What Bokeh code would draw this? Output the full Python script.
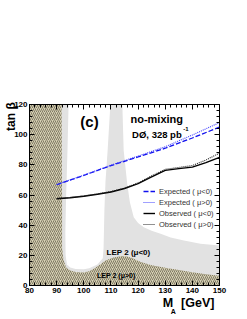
from bokeh.plotting import figure
from bokeh.models import Range1d, LinearAxis, SingleIntervalTicker, FixedTicker, Label, Legend, LegendItem
from bokeh.embed import file_html
from bokeh.resources import INLINE

# ---------------- data ----------------
# LEP 2 (mu>0) excluded region (hatched): boundary
lep_pos_m = [80, 80, 91.8, 92.0, 92.0, 92.5, 93.5, 95, 97, 100, 102, 104, 106, 108, 111, 114, 116, 118, 121, 125, 130, 135, 140, 145, 150, 150]
lep_pos_t = [0, 120, 120, 60, 25, 17, 12, 10, 9, 8.6, 9.5, 11.5, 14, 16.5, 18.5, 19.5, 19.3, 18, 15.5, 13.5, 11.8, 10.2, 8.8, 7.5, 6.5, 0]

# LEP 2 (mu<0) excluded region (light grey) = full area minus two allowed (white) regions
allowed1_m = [94.4, 94.0, 93.5, 93.2, 93.3, 93.8, 95, 97, 100, 102, 105, 107, 107.3, 107.6, 108.0, 108.8, 109.8]
allowed1_t = [120, 90, 60, 35, 20, 14, 12, 11, 10.8, 11.5, 14, 18, 25, 50, 69, 90, 120]
allowed2_m = [114.2, 150, 150, 143, 136.9, 132, 128.3, 125, 122.1, 120, 118.4, 117, 116, 114.7]
allowed2_t = [120, 120, 26.5, 27.6, 29.8, 31.8, 34.3, 36.3, 38.7, 41.5, 45.3, 55, 67.4, 89.5]

# limits
mass = [90, 100, 110, 120, 130, 140, 150]
exp_neg = [66.8, 73.0, 79.5, 85.2, 91.0, 97.8, 105.0]
exp_pos = [66.9, 73.2, 79.8, 85.8, 92.0, 99.8, 108.0]
obs_mass = [90, 95, 100, 105, 110, 115, 120, 125, 130, 135, 140, 145, 150]
obs_neg = [57.5, 58.2, 59.2, 60.5, 62.0, 64.3, 67.5, 72.0, 76.3, 77.5, 78.5, 81.5, 85.0]
obs_pos = [57.7, 58.4, 59.4, 60.7, 62.3, 64.6, 68.0, 72.7, 77.0, 78.3, 79.5, 83.2, 87.8]

legend_labels = ["Expected ( \u03bc<0)", "Expected ( \u03bc>0)", "Observed ( \u03bc<0)", "Observed ( \u03bc>0)"]

# axis titles (placed at data positions through extra label-only axes)
x_title = {131: "M", 142: "[GeV]"}
x_title_sub = {133: "A"}
y_title = {112: "tan \u03b2"}

FONT = "Liberation Sans"
GREY = "#e2e2e2"

p = figure(frame_width=190, frame_height=181, output_backend="svg", toolbar_location=None,
           x_range=Range1d(80, 150), y_range=Range1d(0, 120),
           min_border_left=29, min_border_right=20, min_border_top=104, min_border_bottom=0,
           x_axis_location=None, y_axis_location=None)
p.xgrid.visible = False
p.ygrid.visible = False
p.outline_line_color = "black"
p.outline_line_width = 1
p.background_fill_color = "white"
p.border_fill_color = "white"

# grey: whole region, then allowed (white) regions, then hatched region
p.patch([80, 80, 150, 150], [0, 120, 120, 0], fill_color=GREY, line_color=None)
p.patch(allowed1_m, allowed1_t, fill_color="white", line_color=None)
p.patch(allowed2_m, allowed2_t, fill_color="white", line_color=None)
p.patch(lep_pos_m, lep_pos_t, fill_color="#d6d0b4", line_color=None,
        hatch_pattern="/", hatch_color="#5a5440", hatch_weight=0.7, hatch_scale=4)

r1 = p.line(mass, exp_neg, line_color="#1010ee", line_width=1.3, line_dash="5 2")
r2 = p.line(mass, exp_pos, line_color="#4040ff", line_width=1.1, line_dash="1 1")
r3 = p.line(obs_mass, obs_neg, line_color="black", line_width=1.4)
r4 = p.line(obs_mass, obs_pos, line_color="#222222", line_width=1.1, line_dash="1 1")

legend = Legend(items=[LegendItem(label=l, renderers=[r]) for l, r in zip(legend_labels, [r1, r2, r3, r4])],
                location=(114, 56), padding=0, margin=0, spacing=1,
                glyph_width=12, glyph_height=10, label_height=10, label_standoff=4,
                label_text_font=FONT, label_text_font_size="7.5px", label_text_color="#333333",
                background_fill_alpha=0, border_line_alpha=0)
p.add_layout(legend, "center")

def style_axis(ax, labels=True):
    ax.major_tick_in = 5
    ax.major_tick_out = 0
    ax.minor_tick_in = 3
    ax.minor_tick_out = 0
    ax.axis_line_color = "black"
    ax.major_tick_line_color = "black"
    ax.minor_tick_line_color = "black"
    ax.major_label_text_font = FONT
    ax.major_label_text_font_style = "bold"
    ax.major_label_text_font_size = "8px"
    ax.major_label_text_color = "black" if labels else None
    ax.major_label_standoff = 2

xt = SingleIntervalTicker(interval=10, num_minor_ticks=5)
yt = SingleIntervalTicker(interval=20, num_minor_ticks=5)
for loc, lab in [("below", True), ("above", False)]:
    ax = LinearAxis(ticker=xt)
    style_axis(ax, lab)
    p.add_layout(ax, loc)
for loc, lab in [("left", True), ("right", False)]:
    ax = LinearAxis(ticker=yt)
    style_axis(ax, lab)
    p.add_layout(ax, loc)

def title_axis(overrides, size, standoff, orientation="horizontal"):
    ax = LinearAxis(ticker=FixedTicker(ticks=list(overrides.keys()), minor_ticks=[]),
                    major_label_overrides=overrides)
    ax.axis_line_color = None
    ax.major_tick_line_color = None
    ax.minor_tick_line_color = None
    ax.major_tick_in = 0
    ax.major_tick_out = 0
    ax.minor_tick_in = 0
    ax.minor_tick_out = 0
    ax.major_label_text_font = FONT
    ax.major_label_text_font_style = "bold"
    ax.major_label_text_font_size = size
    ax.major_label_text_color = "black"
    ax.major_label_standoff = standoff
    ax.major_label_orientation = orientation
    return ax

p.add_layout(title_axis(x_title, "12.5px", 0), "below")
p.add_layout(title_axis(x_title_sub, "7px", -5), "below")
p.add_layout(title_axis(y_title, "12px", -7, "vertical"), "left")

def lab(x, y, text, size, style="bold", align="left", baseline="alphabetic", color="black"):
    p.add_layout(Label(x=x, y=y, text=text, text_font=FONT, text_font_size=size,
                       text_font_style=style, text_align=align, text_baseline=baseline,
                       text_color=color))

lab(102.1, 108.4, "(c)", "15px", align="center", baseline="middle")
lab(117.2, 110.5, "no-mixing", "11px")
lab(117.8, 100.1, "D\u00d8, 328 pb", "9.5px")
lab(136.6, 103.6, "-1", "6px")
lab(108.4, 22.1, "LEP 2 (\u03bc<0)", "8px")
lab(104.9, 6.6, "LEP 2 (\u03bc>0)", "7px")

open("out.html", "w").write(file_html(p, INLINE))
